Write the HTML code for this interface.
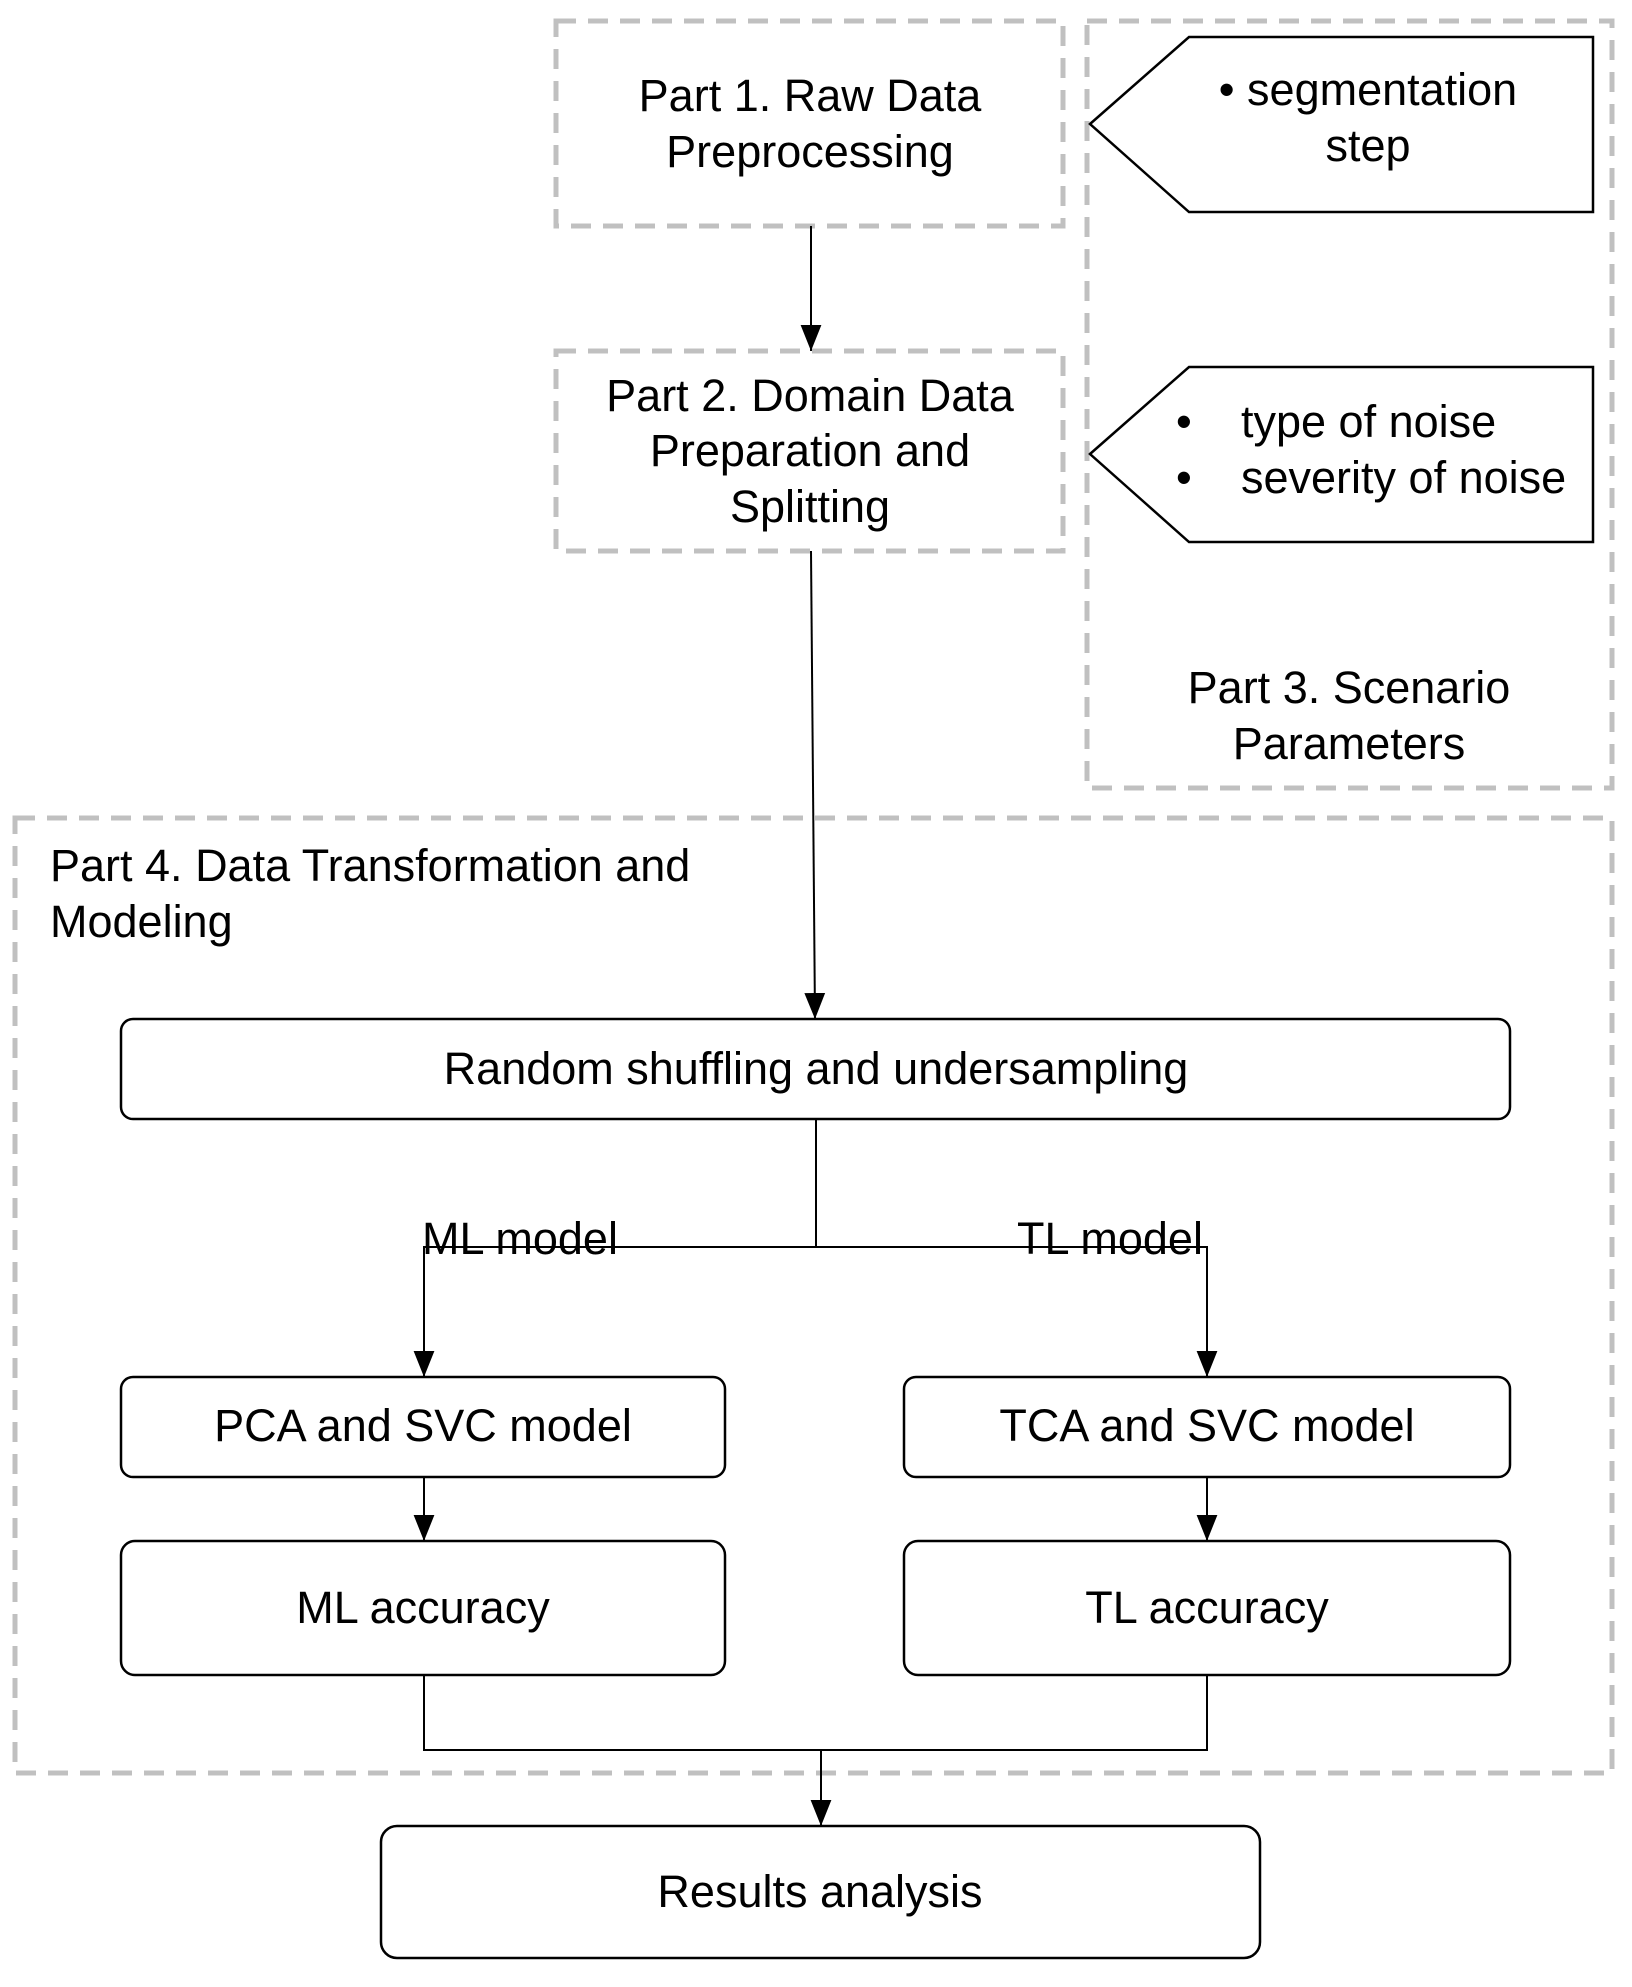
<!DOCTYPE html>
<html><head><meta charset="utf-8"><style>body{margin:0;background:#fff}</style></head><body>
<svg width="1632" height="1982" xmlns="http://www.w3.org/2000/svg" font-family="Liberation Sans, Arial, sans-serif" font-size="45" fill="#000">
<defs>
<marker id="b" viewBox="0 0 10 10" refX="10" refY="5" markerWidth="26" markerHeight="26" markerUnits="userSpaceOnUse" orient="auto"><path d="M0,1 L10,5 L0,9 z" fill="#000"/></marker></defs>
<g fill="none" stroke="#c0c0c0" stroke-width="5" stroke-dasharray="20,12">
<rect x="556" y="21" width="507" height="205"/>
<rect x="1087" y="21" width="525" height="767"/>
<rect x="556" y="351" width="507" height="200"/>
<rect x="15" y="818" width="1597" height="955"/>
</g>
<g fill="#fff" stroke="#000" stroke-width="2.5">
<polygon points="1090,124 1189,37 1593,37 1593,212 1189,212"/>
<polygon points="1090,454 1189,367 1593,367 1593,542 1189,542"/>
<rect x="121" y="1019" width="1389" height="100" rx="12"/>
<rect x="121" y="1377" width="604" height="100" rx="12"/>
<rect x="904" y="1377" width="606" height="100" rx="12"/>
<rect x="121" y="1541" width="604" height="134" rx="14"/>
<rect x="904" y="1541" width="606" height="134" rx="14"/>
<rect x="381" y="1826" width="879" height="132" rx="16"/>
</g>
<g fill="none" stroke="#000" stroke-width="2">
<line x1="811" y1="226" x2="811" y2="351" marker-end="url(#b)"/>
<line x1="811" y1="551" x2="815" y2="1019" marker-end="url(#b)"/>
<polyline points="816,1119 816,1247 424,1247 424,1377" marker-end="url(#b)"/>
<polyline points="816,1247 1207,1247 1207,1377" marker-end="url(#b)"/>
<line x1="424" y1="1477" x2="424" y2="1541" marker-end="url(#b)"/>
<line x1="1207" y1="1477" x2="1207" y2="1541" marker-end="url(#b)"/>
<polyline points="424,1675 424,1750 1207,1750 1207,1675"/>
<line x1="821" y1="1750" x2="821" y2="1826" marker-end="url(#b)"/>
</g>
<g text-anchor="middle">
<text x="810" y="111">Part 1. Raw Data</text>
<text x="810" y="167">Preprocessing</text>
<text x="810" y="411">Part 2. Domain Data</text>
<text x="810" y="466">Preparation and</text>
<text x="810" y="522">Splitting</text>
<text x="1368" y="105">• segmentation</text>
<text x="1368" y="161">step</text>
<text x="1349" y="703">Part 3. Scenario</text>
<text x="1349" y="759">Parameters</text>
<text x="816" y="1084">Random shuffling and undersampling</text>
<text x="520" y="1254">ML model</text>
<text x="1110" y="1254">TL model</text>
<text x="423" y="1441">PCA and SVC model</text>
<text x="1207" y="1441">TCA and SVC model</text>
<text x="423" y="1623">ML accuracy</text>
<text x="1207" y="1623">TL accuracy</text>
<text x="820" y="1907">Results analysis</text>
</g>
<text x="1176" y="437">•</text><text x="1241" y="437">type of noise</text>
<text x="1176" y="493">•</text><text x="1241" y="493">severity of noise</text>
<text x="50" y="881">Part 4. Data Transformation and</text>
<text x="50" y="937">Modeling</text>
</svg>
</body></html>
